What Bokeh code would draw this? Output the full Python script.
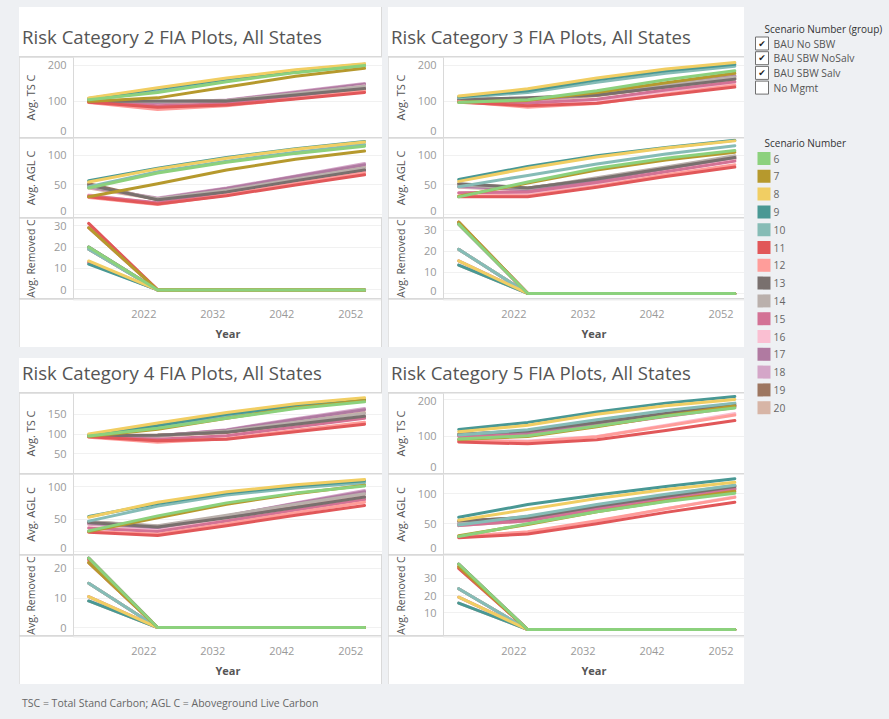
from bokeh.plotting import figure
from bokeh.models import Range1d, FixedTicker, Div, Spacer, Column, Row, ColumnDataSource
from bokeh.embed import file_html
from bokeh.resources import INLINE
from bokeh.core.properties import value
from bokeh.core.validation import silence
from bokeh.core.validation.warnings import MISSING_RENDERERS

silence(MISSING_RENDERERS, True)

FONT = "Open Sans"
PAGE_BG = "#eef0f3"
RULE = "#d9d9d9"

# ---------------------------------------------------------------- data
YEARS = [2014, 2024, 2034, 2044, 2054]
X_TICKS = [2022, 2032, 2042, 2052]

SCENARIOS = [6, 7, 8, 9, 10, 11, 12, 13, 14, 15, 16, 17, 18, 19, 20]
SCENARIO_COLORS = ["#8cd17d", "#b6992d", "#f1ce63", "#499894", "#86bcb6",
                   "#e15759", "#ff9d9a", "#79706e", "#bab0ac", "#d37295",
                   "#fabfd2", "#b07aa1", "#d4a6c8", "#9d7660", "#d7b5a6"]

SCENARIO_GROUPS = ["BAU No SBW", "BAU SBW NoSalv", "BAU SBW Salv", "No Mgmt"]
GROUP_SELECTED = [True, True, True, False]

# Risk category 2 (rows follow SCENARIOS, columns follow YEARS)
RC2_TSC = [
    [105, 125, 155, 180, 200], [100, 110, 140, 170, 192], [110, 138, 165, 188, 205],
    [108, 135, 162, 186, 203], [104, 128, 157, 182, 199], [98, 84, 90, 107, 125],
    [97, 78, 88, 108, 128], [100, 101, 101, 118, 136], [101, 100, 103, 122, 142],
    [99, 88, 94, 115, 138], [100, 80, 92, 118, 143], [100, 98, 103, 125, 148],
    [101, 97, 104, 127, 150], [99, 99, 100, 117, 134], [100, 96, 101, 120, 140],
]
RC2_AGLC = [
    [45, 70, 88, 103, 115], [30, 52, 75, 93, 107], [55, 77, 95, 110, 122],
    [57, 78, 96, 111, 123], [47, 72, 90, 105, 118], [30, 18, 32, 50, 67],
    [29, 17, 33, 52, 70], [50, 25, 38, 57, 75], [48, 27, 41, 60, 79],
    [32, 20, 36, 56, 74], [33, 19, 37, 58, 78], [47, 27, 44, 64, 84],
    [46, 28, 45, 65, 86], [52, 25, 39, 57, 76], [45, 26, 42, 62, 81],
]
RC2_REMC = [
    [20, 0, 0, 0, 0], [29, 0, 0, 0, 0], [13.5, 0, 0, 0, 0], [12, 0, 0, 0, 0],
    [19, 0, 0, 0, 0], [31, 0, 0, 0, 0], [29, 0, 0, 0, 0], [20, 0, 0, 0, 0],
    [19, 0, 0, 0, 0], [13, 0, 0, 0, 0], [31, 0, 0, 0, 0], [29, 0, 0, 0, 0],
    [20, 0, 0, 0, 0], [19, 0, 0, 0, 0], [12.5, 0, 0, 0, 0],
]

# Risk category 3
RC3_TSC = [
    [97, 105, 130, 160, 185], [98, 103, 125, 152, 178], [115, 135, 165, 190, 208],
    [113, 130, 160, 185, 203], [110, 125, 153, 178, 198], [98, 88, 95, 118, 140],
    [100, 84, 94, 120, 145], [105, 110, 118, 140, 162], [107, 108, 120, 145, 168],
    [103, 96, 106, 132, 155], [101, 90, 102, 128, 152], [106, 104, 120, 146, 170],
    [107, 103, 121, 148, 172], [104, 108, 117, 140, 163], [106, 102, 116, 142, 166],
]
RC3_AGLC = [
    [30, 55, 78, 95, 108], [31, 53, 75, 92, 105], [56, 78, 97, 112, 124],
    [59, 81, 99, 113, 125], [47, 66, 85, 102, 116], [30, 30, 46, 64, 80],
    [31, 32, 48, 67, 84], [52, 45, 60, 78, 96], [50, 44, 62, 80, 99],
    [37, 38, 54, 72, 90], [36, 36, 53, 72, 91], [48, 42, 58, 77, 95],
    [47, 42, 60, 79, 98], [51, 45, 59, 77, 94], [46, 41, 58, 78, 97],
]
RC3_REMC = [
    [33, 0, 0, 0, 0], [34, 0, 0, 0, 0], [15.5, 0, 0, 0, 0], [13.5, 0, 0, 0, 0],
    [21, 0, 0, 0, 0], [33.5, 0, 0, 0, 0], [34, 0, 0, 0, 0], [33, 0, 0, 0, 0],
    [21, 0, 0, 0, 0], [15.5, 0, 0, 0, 0], [33.5, 0, 0, 0, 0], [34, 0, 0, 0, 0],
    [33, 0, 0, 0, 0], [21, 0, 0, 0, 0], [13.5, 0, 0, 0, 0],
]

# Risk category 4
RC4_TSC = [
    [95, 115, 140, 165, 182], [94, 112, 140, 167, 185], [100, 128, 155, 177, 192],
    [98, 122, 150, 172, 188], [97, 118, 146, 170, 186], [93, 83, 87, 106, 125],
    [92, 79, 88, 110, 130], [96, 97, 105, 125, 145], [97, 96, 108, 130, 152],
    [95, 87, 96, 118, 140], [94, 82, 95, 120, 145], [96, 96, 110, 137, 162],
    [97, 95, 111, 139, 165], [96, 98, 104, 124, 143], [95, 94, 106, 130, 155],
]
RC4_AGLC = [
    [32, 55, 75, 90, 101], [31, 52, 73, 89, 102], [53, 76, 92, 103, 111],
    [54, 74, 90, 101, 109], [47, 70, 87, 98, 106], [30, 25, 40, 56, 71],
    [31, 27, 43, 60, 76], [45, 38, 52, 68, 84], [46, 40, 56, 73, 89],
    [36, 31, 47, 64, 80], [37, 32, 49, 67, 84], [44, 37, 55, 74, 92],
    [43, 36, 55, 75, 94], [46, 39, 52, 68, 83], [42, 35, 52, 70, 88],
]
RC4_REMC = [
    [23.5, 0, 0, 0, 0], [22, 0, 0, 0, 0], [10.5, 0, 0, 0, 0], [9, 0, 0, 0, 0],
    [15, 0, 0, 0, 0], [23, 0, 0, 0, 0], [22, 0, 0, 0, 0], [23.5, 0, 0, 0, 0],
    [15, 0, 0, 0, 0], [10.5, 0, 0, 0, 0], [23, 0, 0, 0, 0], [22, 0, 0, 0, 0],
    [23.5, 0, 0, 0, 0], [15, 0, 0, 0, 0], [9, 0, 0, 0, 0],
]

# Risk category 5
RC5_TSC = [
    [93, 102, 128, 155, 177], [92, 100, 126, 156, 182], [113, 130, 160, 183, 200],
    [119, 138, 166, 190, 208], [104, 118, 145, 170, 190], [85, 80, 91, 116, 143],
    [88, 86, 99, 128, 158], [105, 115, 138, 162, 185], [106, 116, 142, 166, 189],
    [100, 104, 128, 154, 178], [90, 88, 100, 130, 162], [104, 110, 133, 159, 182],
    [103, 108, 133, 160, 184], [106, 112, 136, 161, 184], [102, 106, 130, 157, 181],
]
RC5_AGLC = [
    [29, 50, 70, 87, 101], [30, 49, 70, 88, 104], [56, 74, 92, 107, 119],
    [61, 82, 98, 112, 125], [48, 63, 82, 99, 114], [27, 33, 50, 69, 86],
    [28, 37, 55, 75, 94], [55, 60, 79, 96, 112], [52, 62, 81, 98, 114],
    [47, 55, 74, 91, 107], [30, 36, 54, 75, 95], [50, 57, 77, 94, 109],
    [49, 56, 76, 94, 110], [54, 61, 80, 97, 113], [47, 55, 75, 93, 108],
]
RC5_REMC = [
    [38.5, 0, 0, 0, 0], [37, 0, 0, 0, 0], [19, 0, 0, 0, 0], [15.5, 0, 0, 0, 0],
    [24, 0, 0, 0, 0], [36, 0, 0, 0, 0], [37, 0, 0, 0, 0], [38.5, 0, 0, 0, 0],
    [24, 0, 0, 0, 0], [19, 0, 0, 0, 0], [36, 0, 0, 0, 0], [37, 0, 0, 0, 0],
    [38.5, 0, 0, 0, 0], [24, 0, 0, 0, 0], [15.5, 0, 0, 0, 0],
]

MEASURES = ["Avg. TS C", "Avg. AGL C", "Avg. Removed C"]
MEASURE_FONT = ["11px", "11px", "10.5px"]
FOOTNOTE = "TSC = Total Stand Carbon; AGL C = Aboveground Live Carbon"

PANELS = [
    dict(title="Risk Category 2 FIA Plots, All States", series=[RC2_TSC, RC2_AGLC, RC2_REMC],
         yr=[(0, 222), (-4.7, 128), (-4, 33.3)], ticks=[[0, 100, 200], [0, 50, 100], [0, 10, 20, 30]]),
    dict(title="Risk Category 3 FIA Plots, All States", series=[RC3_TSC, RC3_AGLC, RC3_REMC],
         yr=[(0, 222), (-4.7, 128), (-2.4, 35.7)], ticks=[[0, 100, 200], [0, 50, 100], [0, 10, 20, 30]]),
    dict(title="Risk Category 4 FIA Plots, All States", series=[RC4_TSC, RC4_AGLC, RC4_REMC],
         yr=[(0, 203), (-4.3, 118.6), (-2.7, 24.4)], ticks=[[50, 100, 150], [0, 50, 100], [0, 10, 20]]),
    dict(title="Risk Category 5 FIA Plots, All States", series=[RC5_TSC, RC5_AGLC, RC5_REMC],
         yr=[(0, 216), (-1, 132), (-3.5, 43.5)], ticks=[[0, 100, 200], [0, 50, 100], [10, 20, 30]]),
]

# ---------------------------------------------------------------- helpers
def style_blank(p, fill="white"):
    p.background_fill_color = fill
    p.border_fill_color = fill
    p.outline_line_color = None


def measure_plot(rows, x_range, y_lo, y_hi, ticks, label, label_size, frame_w, border_l, frame_h):
    p = figure(frame_width=frame_w, frame_height=frame_h, x_range=x_range,
               y_range=Range1d(y_lo, y_hi), toolbar_location=None, output_backend="svg",
               x_axis_location=None, min_border_left=border_l, min_border_right=0,
               min_border_top=0, min_border_bottom=0)
    style_blank(p)
    p.xgrid.visible = False
    p.ygrid.ticker = FixedTicker(ticks=ticks)
    p.ygrid.grid_line_color = "#f1f1f1"

    # tick labels near the pane edges are nudged inward so they stay inside it
    units_per_px = (y_hi - y_lo) / frame_h
    spots, names = [], {}
    for t in ticks:
        pix = (t - y_lo) / units_per_px
        off = 0.0
        if pix < 7:
            off = 7 - pix
        elif pix > frame_h - 7:
            off = frame_h - 7 - pix
        pos = round(t + off * units_per_px, 4)
        spots.append(pos)
        names[pos] = str(t)

    ax = p.yaxis[0]
    ax.ticker = FixedTicker(ticks=spots)
    ax.major_label_overrides = names
    ax.axis_line_color = RULE
    ax.major_tick_line_color = None
    ax.minor_tick_line_color = None
    ax.major_tick_out = 0
    ax.major_tick_in = 0
    ax.major_label_standoff = 7
    ax.major_label_text_font = FONT
    ax.major_label_text_font_size = "11px"
    ax.major_label_text_color = "#9a9a9a"
    widest = max(len(str(t)) for t in ticks)
    ax.axis_label = label
    ax.axis_label_standoff = int(round(26 - 6.3 * widest))
    ax.axis_label_text_font = FONT
    ax.axis_label_text_font_size = label_size
    ax.axis_label_text_font_style = "normal"
    ax.axis_label_text_color = "#555555"

    # first scenario drawn last so it sits on top
    src = ColumnDataSource(dict(xs=[YEARS] * len(rows), ys=rows[::-1],
                                color=SCENARIO_COLORS[::-1]))
    p.multi_line("xs", "ys", source=src, line_color="color", line_width=3,
                 line_join="round", line_cap="round")
    return p


def year_axis(x_range, frame_w, border_l):
    p = figure(frame_width=frame_w, frame_height=1, x_range=x_range, y_range=Range1d(0, 1),
               toolbar_location=None, output_backend="svg", y_axis_location=None,
               min_border_left=border_l, min_border_right=0, min_border_top=0,
               min_border_bottom=47)
    style_blank(p)
    p.grid.visible = False
    xa = p.xaxis[0]
    xa.ticker = FixedTicker(ticks=X_TICKS)
    xa.axis_line_color = None
    xa.major_tick_line_color = None
    xa.minor_tick_line_color = None
    xa.major_label_standoff = 3
    xa.major_label_text_font = FONT
    xa.major_label_text_font_size = "11px"
    xa.major_label_text_color = "#9a9a9a"
    xa.axis_label = "Year"
    xa.axis_label_standoff = 5
    xa.axis_label_text_font = FONT
    xa.axis_label_text_font_size = "11px"
    xa.axis_label_text_font_style = "bold"
    xa.axis_label_text_color = "#555555"
    return p


def panel(spec, width, border_l, title_h, title_pad, x_end):
    frame_w = width - border_l
    x_range = Range1d(2011.8, x_end)
    title = Div(text=(f'<div style="padding:{title_pad}px 0 0 3px;font-family:\'{FONT}\';'
                      f'font-size:18.6px;line-height:22px;color:#555555;white-space:nowrap">'
                      f'{spec["title"]}</div>'),
                width=width, height=title_h, margin=0, styles={"background-color": "white"})
    heights = [80, 79 if title_h > 40 else 80, 80]
    plots = [measure_plot(rows, x_range, lo, hi, ticks, label, lsize, frame_w, border_l, h)
             for rows, (lo, hi), ticks, label, lsize, h in
             zip(spec["series"], spec["yr"], spec["ticks"], MEASURES, MEASURE_FONT, heights)]
    kids = [title] + plots + [year_axis(x_range, frame_w, border_l)]
    return Column(children=kids, spacing=1, styles={"background-color": RULE})


def legend_plot():
    p = figure(width=146, height=719, x_range=Range1d(0, 146), y_range=Range1d(719, 0),
               toolbar_location=None, output_backend="svg", min_border=0)
    style_blank(p, PAGE_BG)
    p.axis.visible = False
    p.grid.visible = False
    head = dict(text_font=value(FONT), text_font_size="10px", text_baseline="middle",
                text_color="#333333")
    item = dict(text_font=value(FONT), text_font_size="10.3px", text_baseline="middle")

    gy = [43 + 14.7 * i for i in range(len(SCENARIO_GROUPS))]
    p.text(x=[20], y=[28], text=["Scenario Number (group)"], **head)
    p.rect(x=[17.5] * len(gy), y=gy, width=13, height=13, fill_color="white",
           line_color="#6f6f6f", line_width=1)
    checked = [y for y, on in zip(gy, GROUP_SELECTED) if on]
    p.text(x=[17.5] * len(checked), y=checked, text=["\u2714"] * len(checked),
           text_font=value("DejaVu Sans"), text_font_size="9px", text_align="center",
           text_baseline="middle", text_color="#222222")
    p.text(x=[29] * len(gy), y=gy, text=SCENARIO_GROUPS, text_color="#555555", **item)

    sy = [158 + 17.8 * i for i in range(len(SCENARIOS))]
    p.text(x=[20], y=[142], text=["Scenario Number"], **head)
    p.rect(x=[19.5] * len(sy), y=sy, width=13, height=13, fill_color=SCENARIO_COLORS,
           line_color=None)
    p.text(x=[29] * len(sy), y=sy, text=[str(s) for s in SCENARIOS],
           text_color="#666666", **item)
    return p


p1 = panel(PANELS[0], 362, 53, 49, 19, 2056.6)
p2 = panel(PANELS[1], 356, 55, 49, 19, 2055.4)
p3 = panel(PANELS[2], 362, 53, 34, 4, 2056.6)
p4 = panel(PANELS[3], 356, 55, 34, 4, 2055.4)

foot = Div(text=(f'<div style="padding:12px 0 0 3px;font-family:\'{FONT}\';font-size:10.5px;'
                 f'color:#666666;white-space:nowrap">{FOOTNOTE}</div>'),
           width=724, height=35, margin=0)

left = Column(children=[Spacer(height=7, margin=0), Row(children=[p1, p2], spacing=6),
                        Spacer(height=11, margin=0), Row(children=[p3, p4], spacing=6), foot])

root = Row(children=[Spacer(width=19, margin=0), left, legend_plot()],
           styles={"background-color": PAGE_BG})

open("out.html", "w").write(file_html(root, INLINE))
